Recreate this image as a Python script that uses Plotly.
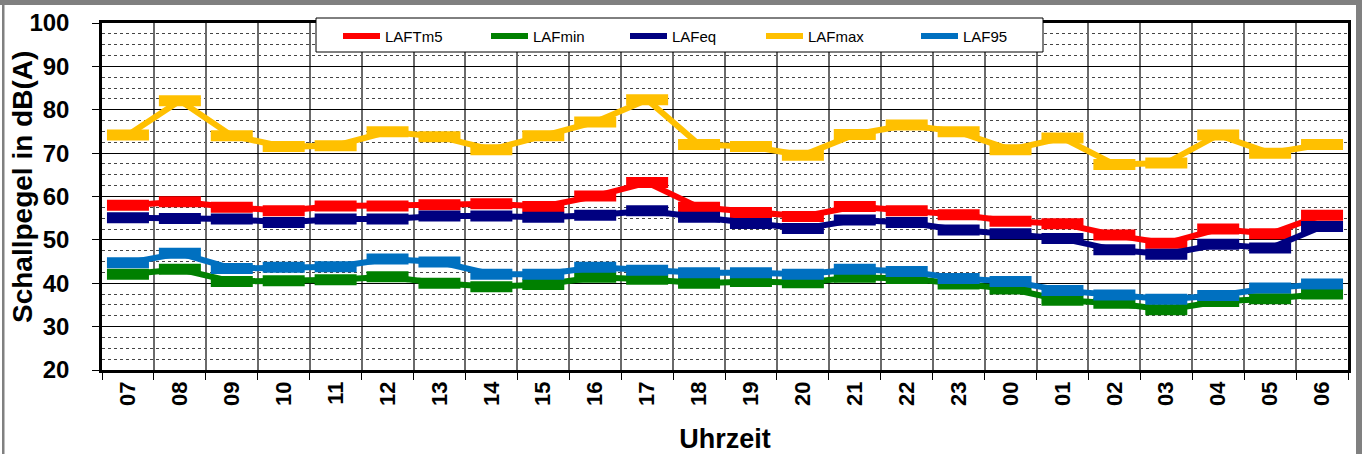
import plotly.graph_objects as go

hours = ["07", "08", "09", "10", "11", "12", "13", "14", "15", "16", "17", "18",
         "19", "20", "21", "22", "23", "00", "01", "02", "03", "04", "05", "06"]

laftm5 = [58.0, 58.8, 57.5, 56.7, 57.8, 57.8, 58.1, 58.3, 57.7, 60.1, 63.2, 57.5,
          56.3, 55.4, 57.7, 56.7, 55.8, 54.3, 53.7, 51.1, 49.2, 52.5, 51.4, 55.7]
lafmin = [42.1, 43.2, 40.4, 40.6, 40.8, 41.5, 40.0, 39.2, 39.7, 41.4, 40.9, 40.0,
          40.4, 40.1, 41.4, 41.1, 39.8, 38.7, 36.1, 35.4, 33.9, 35.8, 36.4, 37.5]
lafeq = [55.1, 54.9, 54.8, 54.0, 54.8, 54.8, 55.5, 55.5, 55.2, 55.7, 56.7, 55.2,
         53.8, 52.6, 54.6, 54.0, 52.3, 51.4, 50.3, 47.7, 46.7, 49.0, 48.1, 53.1]
lafmax = [74.2, 82.1, 74.0, 71.5, 71.7, 74.9, 73.8, 70.8, 74.0, 77.2, 82.3, 72.0,
          71.5, 69.5, 74.3, 76.5, 74.9, 70.8, 73.5, 67.4, 67.7, 74.2, 70.0, 72.0]
laf95 = [44.7, 46.9, 43.4, 43.7, 43.8, 45.6, 44.9, 42.1, 42.1, 43.7, 43.0, 42.4,
         42.4, 42.1, 43.2, 42.7, 41.1, 40.4, 38.3, 37.3, 36.3, 37.2, 38.9, 39.8]

series_names = ["LAFTm5", "LAFmin", "LAFeq", "LAFmax", "LAF95"]
series_values = [laftm5, lafmin, lafeq, lafmax, laf95]
series_colors = ["#FF0000", "#008000", "#000080", "#FFC000", "#0070C0"]

y_title = "Schallpegel in dB(A)"
x_title = "Uhrzeit"

W, H = 1362, 454
L, R, T, B = 102, 14, 23, 84
PW, PH = W - L - R, H - T - B

def px(x):
    return (x - L) / PW

def py(y):
    return (H - B - y) / PH

FONT = "Liberation Sans, Arial, sans-serif"

fig = go.Figure()
for name, vals, col in zip(series_names, series_values, series_colors):
    fig.add_trace(go.Scatter(
        x=hours, y=vals, name=name, mode="lines", legendgroup=name,
        line=dict(color=col, width=6), showlegend=False,
    ))
    fig.add_trace(go.Scatter(
        x=hours, y=vals, name=name, mode="markers", legendgroup=name,
        marker=dict(symbol="line-ew", size=30, color=col,
                    line=dict(color=col, width=11)),
        showlegend=False, hoverinfo="skip",
    ))

shapes = [
    dict(type="rect", xref="paper", yref="paper", x0=px(0), x1=px(W), y0=py(5), y1=py(0),
         fillcolor="#808080", line=dict(width=0), layer="above"),
    dict(type="rect", xref="paper", yref="paper", x0=px(2), x1=px(4.5), y0=py(H + 5), y1=py(0),
         fillcolor="#808080", line=dict(width=0), layer="above"),
    dict(type="rect", xref="paper", yref="paper", x0=px(1356), x1=px(W), y0=py(H + 5), y1=py(0),
         fillcolor="#808080", line=dict(width=0), layer="above"),
    # legend box
    dict(type="rect", xref="paper", yref="paper", x0=px(316), x1=px(1043), y0=py(52), y1=py(18),
         fillcolor="white", line=dict(color="black", width=1), layer="above"),
]

annotations = [
    dict(xref="paper", yref="paper", x=px(22), y=py(187), xanchor="center", yanchor="middle",
         textangle=-90, showarrow=False, text=y_title,
         font=dict(family=FONT, size=28, color="black", weight="bold")),
]
legend_line_x = [343, 491, 630, 766, 921]
LEG_Y = 36
for name, col, lx in zip(series_names, series_colors, legend_line_x):
    shapes.append(dict(type="line", xref="paper", yref="paper",
                       x0=px(lx), x1=px(lx + 37), y0=py(LEG_Y), y1=py(LEG_Y),
                       line=dict(color=col, width=6), layer="above"))
    annotations.append(dict(xref="paper", yref="paper", x=px(lx + 40), y=py(LEG_Y),
                            xanchor="left", yanchor="middle", showarrow=False, text=name,
                            font=dict(family=FONT, size=15, color="black")))

fig.update_layout(
    width=W, height=H,
    margin=dict(l=L, r=R, t=T, b=B, autoexpand=False),
    paper_bgcolor="white", plot_bgcolor="white",
    font=dict(family=FONT, color="black"),
    showlegend=False,
    shapes=shapes,
    annotations=annotations,
    xaxis=dict(
        type="category", categoryorder="array", categoryarray=hours,
        range=[-0.5, len(hours) - 0.5], automargin=False,
        tickangle=-90, tickfont=dict(family=FONT, size=22, color="black", weight="bold"),
        ticks="outside", ticklen=7, tickcolor="black", tickwidth=1,
        tickson="boundaries",
        showgrid=True, gridcolor="#6a6a6a", gridwidth=1.5,
        showline=True, linecolor="black", linewidth=2.5, mirror=True,
        title=dict(text=x_title, font=dict(family=FONT, size=27, color="black", weight="bold"),
                   standoff=26),
        zeroline=False,
    ),
    yaxis=dict(
        range=[20, 100], dtick=10, tick0=20, automargin=False,
        tickfont=dict(family=FONT, size=24, color="black", weight="bold"),
        ticks="outside", ticklen=7, tickcolor="black", tickwidth=1,
        ticklabelstandoff=18,
        showgrid=True, gridcolor="black", gridwidth=1,
        minor=dict(dtick=2.5, showgrid=True, gridcolor="#444444", gridwidth=1, griddash="dot",
                   ticks=""),
        showline=True, linecolor="black", linewidth=2.5, mirror=True,
        zeroline=False,
    ),
)

fig.write_html("out.html", config={"displayModeBar": False},
               post_script="document.body.style.margin='0';document.body.style.overflow='hidden';")
